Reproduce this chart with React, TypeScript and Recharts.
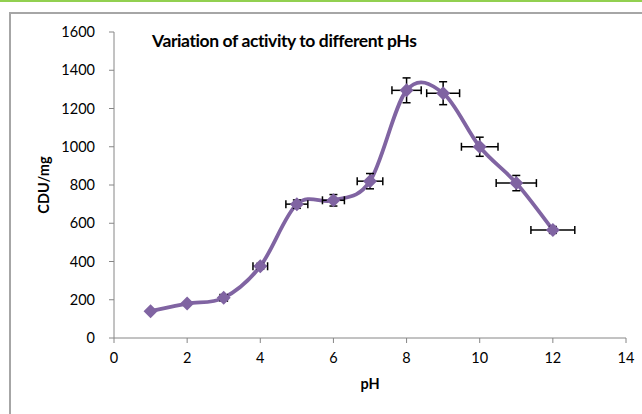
import React from 'react';
import {
  ComposedChart,
  Line,
  Scatter,
  ErrorBar,
  XAxis,
  YAxis,
  Label,
} from 'recharts';

const phValues = [1, 2, 3, 4, 5, 6, 7, 8, 9, 10, 11, 12];
const activity = [140, 180, 210, 375, 700, 720, 820, 1295, 1280, 1000, 810, 565];
const activityErr = [0, 0, 0, 15, 22, 30, 40, 65, 60, 50, 40, 18];
const phErr = [0, 0, 0.1, 0.2, 0.3, 0.3, 0.35, 0.4, 0.45, 0.5, 0.55, 0.6];
const xTicks = [0, 2, 4, 6, 8, 10, 12, 14];
const yTicks = [0, 200, 400, 600, 800, 1000, 1200, 1400, 1600];

const data = phValues.map((ph, i) => ({
  ph,
  cdu: activity[i],
  yErr: activityErr[i],
  xErr: phErr[i],
}));

const PURPLE = '#8064a2';
const AXIS = '#868686';
const FONT = 'Lato, "Open Sans", sans-serif';

// Excel-like smoothed line (cardinal / catmull-rom bezier)
const smoothCurve = (context: any) => {
  let pts: [number, number][] = [];
  return {
    areaStart() {},
    areaEnd() {},
    lineStart() {
      pts = [];
    },
    point(x: number, y: number) {
      pts.push([+x, +y]);
    },
    lineEnd() {
      if (!pts.length) return;
      context.moveTo(pts[0][0], pts[0][1]);
      for (let i = 0; i < pts.length - 1; i++) {
        const p0 = pts[Math.max(i - 1, 0)];
        const p1 = pts[i];
        const p2 = pts[i + 1];
        const p3 = pts[Math.min(i + 2, pts.length - 1)];
        context.bezierCurveTo(
          p1[0] + (p2[0] - p0[0]) / 6,
          p1[1] + (p2[1] - p0[1]) / 6,
          p2[0] - (p3[0] - p1[0]) / 6,
          p2[1] - (p3[1] - p1[1]) / 6,
          p2[0],
          p2[1]
        );
      }
    },
  };
};

const Diamond = (props: any) => {
  const { cx, cy } = props;
  if (cx == null || cy == null) return null;
  const r = 7;
  return (
    <polygon
      points={`${cx},${cy - r} ${cx + r},${cy} ${cx},${cy + r} ${cx - r},${cy}`}
      fill={PURPLE}
    />
  );
};

const Nothing = () => <g />;

export default function App() {
  return (
    <div
      style={{
        position: 'absolute',
        left: 0,
        top: 0,
        width: 642,
        height: 414,
        background: '#fff',
        overflow: 'hidden',
        fontFamily: FONT,
      }}
    >
      <div style={{ position: 'absolute', left: 0, top: 0, width: 642, height: 2, background: '#92d050' }} />
      <div style={{ position: 'absolute', left: 9, top: 12, width: 640, height: 410, borderTop: '2px solid #a6a6a6', borderLeft: '2px solid #a6a6a6' }} />
      <div
        style={{
          position: 'absolute',
          left: 152,
          top: 30,
          fontSize: 17.5,
          letterSpacing: -0.4,
          fontWeight: 700,
          color: '#000',
          whiteSpace: 'nowrap',
        }}
      >
        Variation of activity to different pHs
      </div>
      <div style={{ position: 'absolute', left: 0, top: 0 }}>
        <ComposedChart
          width={642}
          height={414}
          data={data}
          margin={{ top: 32, right: 16, bottom: 0, left: 44 }}
        >
          <XAxis
            dataKey="ph"
            type="number"
            domain={[0, 14]}
            ticks={xTicks}
            interval={0}
            stroke={AXIS}
            tickSize={5}
            tickMargin={10}
            tick={{ fill: '#000', fontSize: 14.5, fontFamily: FONT }}
            height={76}
          >
            <Label
              value="pH"
              position="insideTop"
              offset={41}
              style={{ fill: '#000', fontSize: 14.5, fontWeight: 700, fontFamily: FONT }}
            />
          </XAxis>
          <YAxis
            type="number"
            domain={[0, 1600]}
            ticks={yTicks}
            interval={0}
            stroke={AXIS}
            tickSize={5}
            tickMargin={14}
            width={70}
            tick={{ fill: '#000', fontSize: 14.5, fontFamily: FONT }}
          >
            <Label
              value="CDU/mg"
              angle={-90}
              position="insideLeft"
              offset={0}
              style={{ fill: '#000', fontSize: 14.5, fontWeight: 700, fontFamily: FONT, textAnchor: 'middle' }}
            />
          </YAxis>
          <Line
            dataKey="cdu"
            type={smoothCurve as any}
            stroke={PURPLE}
            strokeWidth={3.8}
            dot={false}
            activeDot={false}
            isAnimationActive={false}
          />
          <Scatter dataKey="cdu" shape={<Diamond />} isAnimationActive={false} />
          <Scatter dataKey="cdu" shape={<Nothing />} isAnimationActive={false}>
            <ErrorBar dataKey="yErr" direction="y" width={4} stroke="#000" strokeWidth={1.5} />
            <ErrorBar dataKey="xErr" direction="x" width={4} stroke="#000" strokeWidth={1.5} />
          </Scatter>
        </ComposedChart>
      </div>
    </div>
  );
}
